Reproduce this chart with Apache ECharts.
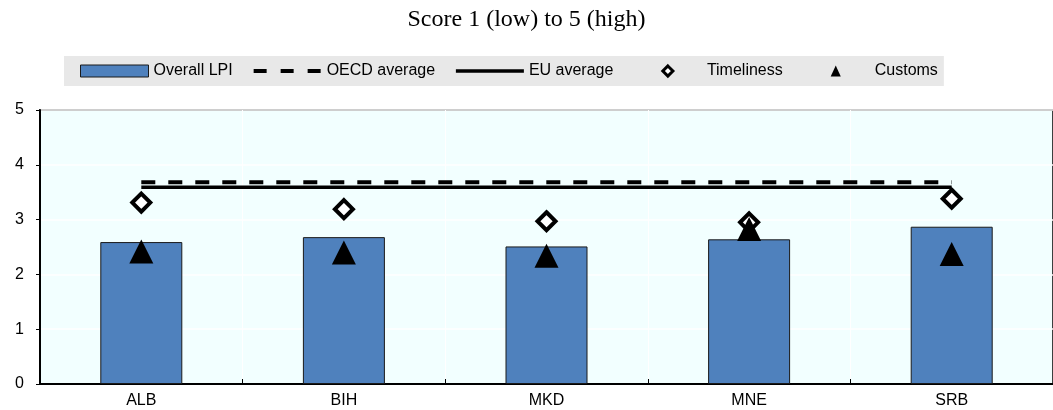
<!DOCTYPE html>
<html>
<head>
<meta charset="utf-8">
<script src="https://cdn.jsdelivr.net/npm/echarts@6/dist/echarts.min.js"></script>
<style>
html,body{margin:0;padding:0;background:#fff;}
#chart{width:1053px;height:410px;}
</style>
</head>
<body>
<div id="chart"></div>
<script>
const categories = ['ALB', 'BIH', 'MKD', 'MNE', 'SRB'];
const overallLPI = [2.59, 2.68, 2.51, 2.64, 2.87];
const oecdAverage = [3.68, 3.68, 3.68, 3.68, 3.68];
const euAverage = [3.59, 3.59, 3.59, 3.59, 3.59];
const timeliness = [3.31, 3.19, 2.97, 2.95, 3.38];
const customs = [2.42, 2.40, 2.34, 2.83, 2.37];
const yTicks = { min: 0, max: 5, interval: 1 };
const titleText = 'Score 1 (low) to 5 (high)';

const sansFont = '"Liberation Sans", Arial, sans-serif';
const fs = 16;
const hidden = { color: 'rgba(0,0,0,0)', borderWidth: 0, borderColor: 'rgba(0,0,0,0)' };
// legend icons: wide invisible bounds (68:12) with the marker centred
const diamondIcon = 'path://M-2.8333,-0.5M2.8333,0.5M0,-0.42L0.42,0L0,0.42L-0.42,0Z';
const triangleIcon = 'path://M-2.8333,-0.5M2.8333,0.5M0,-0.45L0.42,0.45L-0.42,0.45Z';

const chart = echarts.init(document.getElementById('chart'), null, { renderer: 'canvas' });
const option = {
  animation: false,
  backgroundColor: '#ffffff',
  title: {
    text: titleText,
    left: 'center',
    top: 3,
    textStyle: { fontFamily: '"Liberation Serif", "Times New Roman", serif', fontSize: 24, fontWeight: 'normal', color: '#000' }
  },
  legend: {
    left: 64,
    top: 56,
    padding: [7, 6, 7, 16],
    backgroundColor: '#E8E8E8',
    itemWidth: 68,
    itemHeight: 12,
    itemGap: 19,
    symbolKeepAspect: false,
    textStyle: { fontFamily: sansFont, fontSize: fs, color: '#000' },
    data: [
      { name: 'Overall LPI', icon: 'rect', itemStyle: { color: '#4F81BD', borderColor: '#1a1a1a', borderWidth: 1 } },
      { name: 'OECD average', itemStyle: hidden, lineStyle: { color: '#000', width: 4, type: [13, 14] } },
      { name: 'EU average', itemStyle: hidden, lineStyle: { color: '#000', width: 3.5, type: 'solid' } },
      { name: 'Timeliness', icon: diamondIcon, itemStyle: { color: '#fff', borderColor: '#000', borderWidth: 3 } },
      { name: 'Customs', icon: triangleIcon, itemStyle: { color: '#000', borderWidth: 0 } }
    ]
  },
  grid: {
    left: 40, right: -7, top: 110, bottom: 26,
    show: true,
    backgroundColor: '#F2FFFF',
    borderColor: '#000',
    borderWidth: 1.5
  },
  xAxis: {
    type: 'category',
    data: categories,
    boundaryGap: true,
    axisLine: { lineStyle: { color: '#000', width: 2 } },
    axisTick: { show: true, inside: true, length: 5, lineStyle: { color: '#000', width: 1 } },
    axisLabel: { fontFamily: sansFont, fontSize: fs, color: '#000', margin: 9 },
    splitLine: { show: true, lineStyle: { color: '#ffffff', width: 1 } }
  },
  yAxis: {
    type: 'value',
    min: yTicks.min, max: yTicks.max, interval: yTicks.interval,
    axisLine: { show: true, lineStyle: { color: '#000', width: 2 } },
    axisTick: { show: true, inside: false, length: 4, lineStyle: { color: '#000', width: 1 } },
    axisLabel: { fontFamily: sansFont, fontSize: fs, color: '#000', margin: 16 },
    splitLine: { show: true, lineStyle: { color: '#ffffff', width: 1.5 } }
  },
  series: [
    {
      name: 'Overall LPI', type: 'bar', data: overallLPI, barWidth: 82,
      itemStyle: { color: '#4F81BD', borderColor: '#1a1a1a', borderWidth: 1 },
      z: 2
    },
    {
      name: 'OECD average', type: 'line', data: oecdAverage, symbol: 'none',
      lineStyle: { color: '#000', width: 4, type: [14, 13] },
      itemStyle: { color: '#000' }, z: 3
    },
    {
      name: 'EU average', type: 'line', data: euAverage, symbol: 'none',
      lineStyle: { color: '#000', width: 3.5, type: 'solid' },
      itemStyle: { color: '#000' }, z: 3
    },
    {
      name: 'Timeliness', type: 'scatter', data: timeliness, symbol: 'diamond', symbolSize: [18, 18],
      itemStyle: { color: '#ffffff', borderColor: '#000', borderWidth: 4, opacity: 1 }, z: 4
    },
    {
      name: 'Customs', type: 'scatter', data: customs, symbol: 'triangle', symbolSize: [24, 24],
      itemStyle: { color: '#000', opacity: 1 }, z: 5
    }
  ]
};
chart.setOption(option);
</script>
</body>
</html>
